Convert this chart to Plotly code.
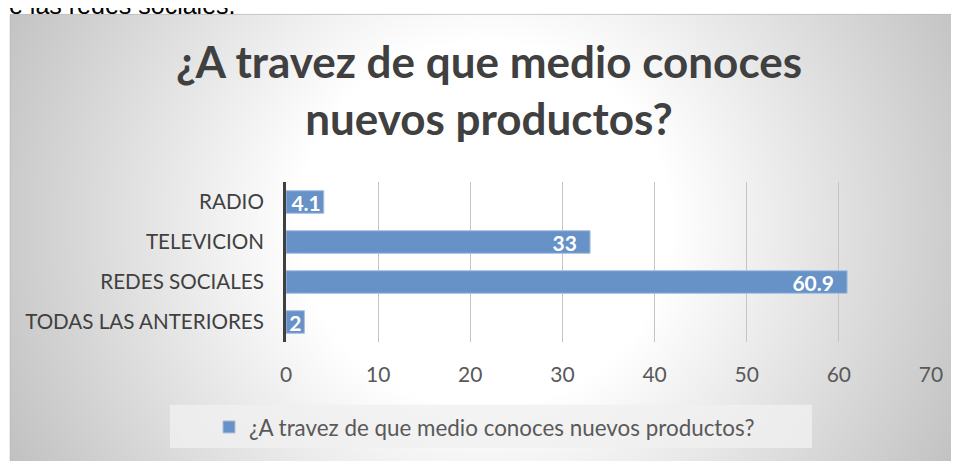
import base64
import plotly.graph_objects as go

categories = ["RADIO", "TELEVICION", "REDES SOCIALES", "TODAS LAS ANTERIORES"]
values = [4.1, 33, 60.9, 2]
series_name = "¿A travez de que medio conoces nuevos productos?"
title_text = "¿A travez de que medio conoces<br>nuevos productos?"
x_ticks = [0, 10, 20, 30, 40, 50, 60, 70]
doc_text = "e las redes sociales."

OFF = 8  # page body margin
W, H = 951, 453
PL, PR, PT, PB = 286, 931, 182, 345  # plot area in page pixels
ML, MT = PL - OFF, PT - OFF
PW, PH = PR - PL, PB - PT
MR, MB = W - ML - PW, H - MT - PH


def px_x(px):
    return (px - OFF - ML) / PW


def px_y(py):
    return (MT + PH - (py - OFF)) / PH


svg = """<svg xmlns="http://www.w3.org/2000/svg" width="960" height="460" viewBox="0 0 960 460" preserveAspectRatio="none">
<defs><radialGradient id="g" gradientUnits="userSpaceOnUse" cx="475" cy="215" r="560">
<stop offset="0" stop-color="#ffffff"/><stop offset="0.33" stop-color="#ffffff"/><stop offset="1" stop-color="#bcbcbc"/>
</radialGradient></defs>
<rect x="0.5" y="0.5" width="980" height="480" fill="url(#g)" stroke="#b8b8b8" stroke-width="1"/>
</svg>"""
svg_uri = "data:image/svg+xml;base64," + base64.b64encode(svg.encode()).decode()

texts = [f"{v:g}" + ("\u00a0\u00a0" if v > 10 else "") for v in values]

fig = go.Figure()
fig.add_trace(go.Bar(
    y=categories, x=values, orientation="h", name=series_name,
    marker=dict(color="#6792c7", line=dict(color="#a8c0e0", width=1)),
    text=texts, textposition="inside", insidetextanchor="end",
    constraintext="none", textangle=0,
    textfont=dict(family="Lato", size=21, color="white", weight="bold"),
    showlegend=True,
))

fig.update_layout(
    width=W, height=H,
    margin=dict(l=ML, r=MR, t=MT, b=MB, pad=0),
    paper_bgcolor="white", plot_bgcolor="rgba(0,0,0,0)",
    bargap=0.435,
    title=dict(text=title_text, x=(489 - OFF) / W, xanchor="center", y=1 - 70 / H, yanchor="top",
               font=dict(family="Lato", size=44, color="#404040", weight="bold")),
    xaxis=dict(range=[0, 70], tickvals=x_ticks, showgrid=True, gridcolor="#c4c4c4", gridwidth=1,
               zeroline=False, showline=False, ticks="",
               ticklabelstandoff=18,
               tickfont=dict(family="Lato", size=21, color="#595959")),
    yaxis=dict(autorange="reversed", showline=True, linecolor="#404040", linewidth=3,
               ticks="", ticklabelstandoff=15, showgrid=False,
               tickfont=dict(family="Lato", size=20.6, color="#404040")),
    legend=dict(orientation="h", x=px_x(209), xanchor="left", y=px_y(432), yanchor="middle",
                bgcolor="rgba(0,0,0,0)", font=dict(family="Lato", size=22.4, color="#595959")),
    images=[dict(source=svg_uri, xref="paper", yref="paper", x=px_x(9.5), y=px_y(10.5),
                 sizex=960 / PW, sizey=460 / PH, sizing="stretch", layer="below",
                 xanchor="left", yanchor="top")],
    shapes=[dict(type="rect", xref="paper", yref="paper", x0=px_x(170), x1=px_x(812),
                 y0=px_y(453), y1=px_y(409), fillcolor="rgba(240,240,240,0.8)",
                 line=dict(width=0), layer="below")],
    annotations=[dict(text=doc_text, xref="paper", yref="paper", x=px_x(238), xanchor="right",
                      y=px_y(1.5), yanchor="middle", showarrow=False,
                      font=dict(family="Liberation Sans", size=25, color="#000000"))],
)

fig.write_html("out.html")
